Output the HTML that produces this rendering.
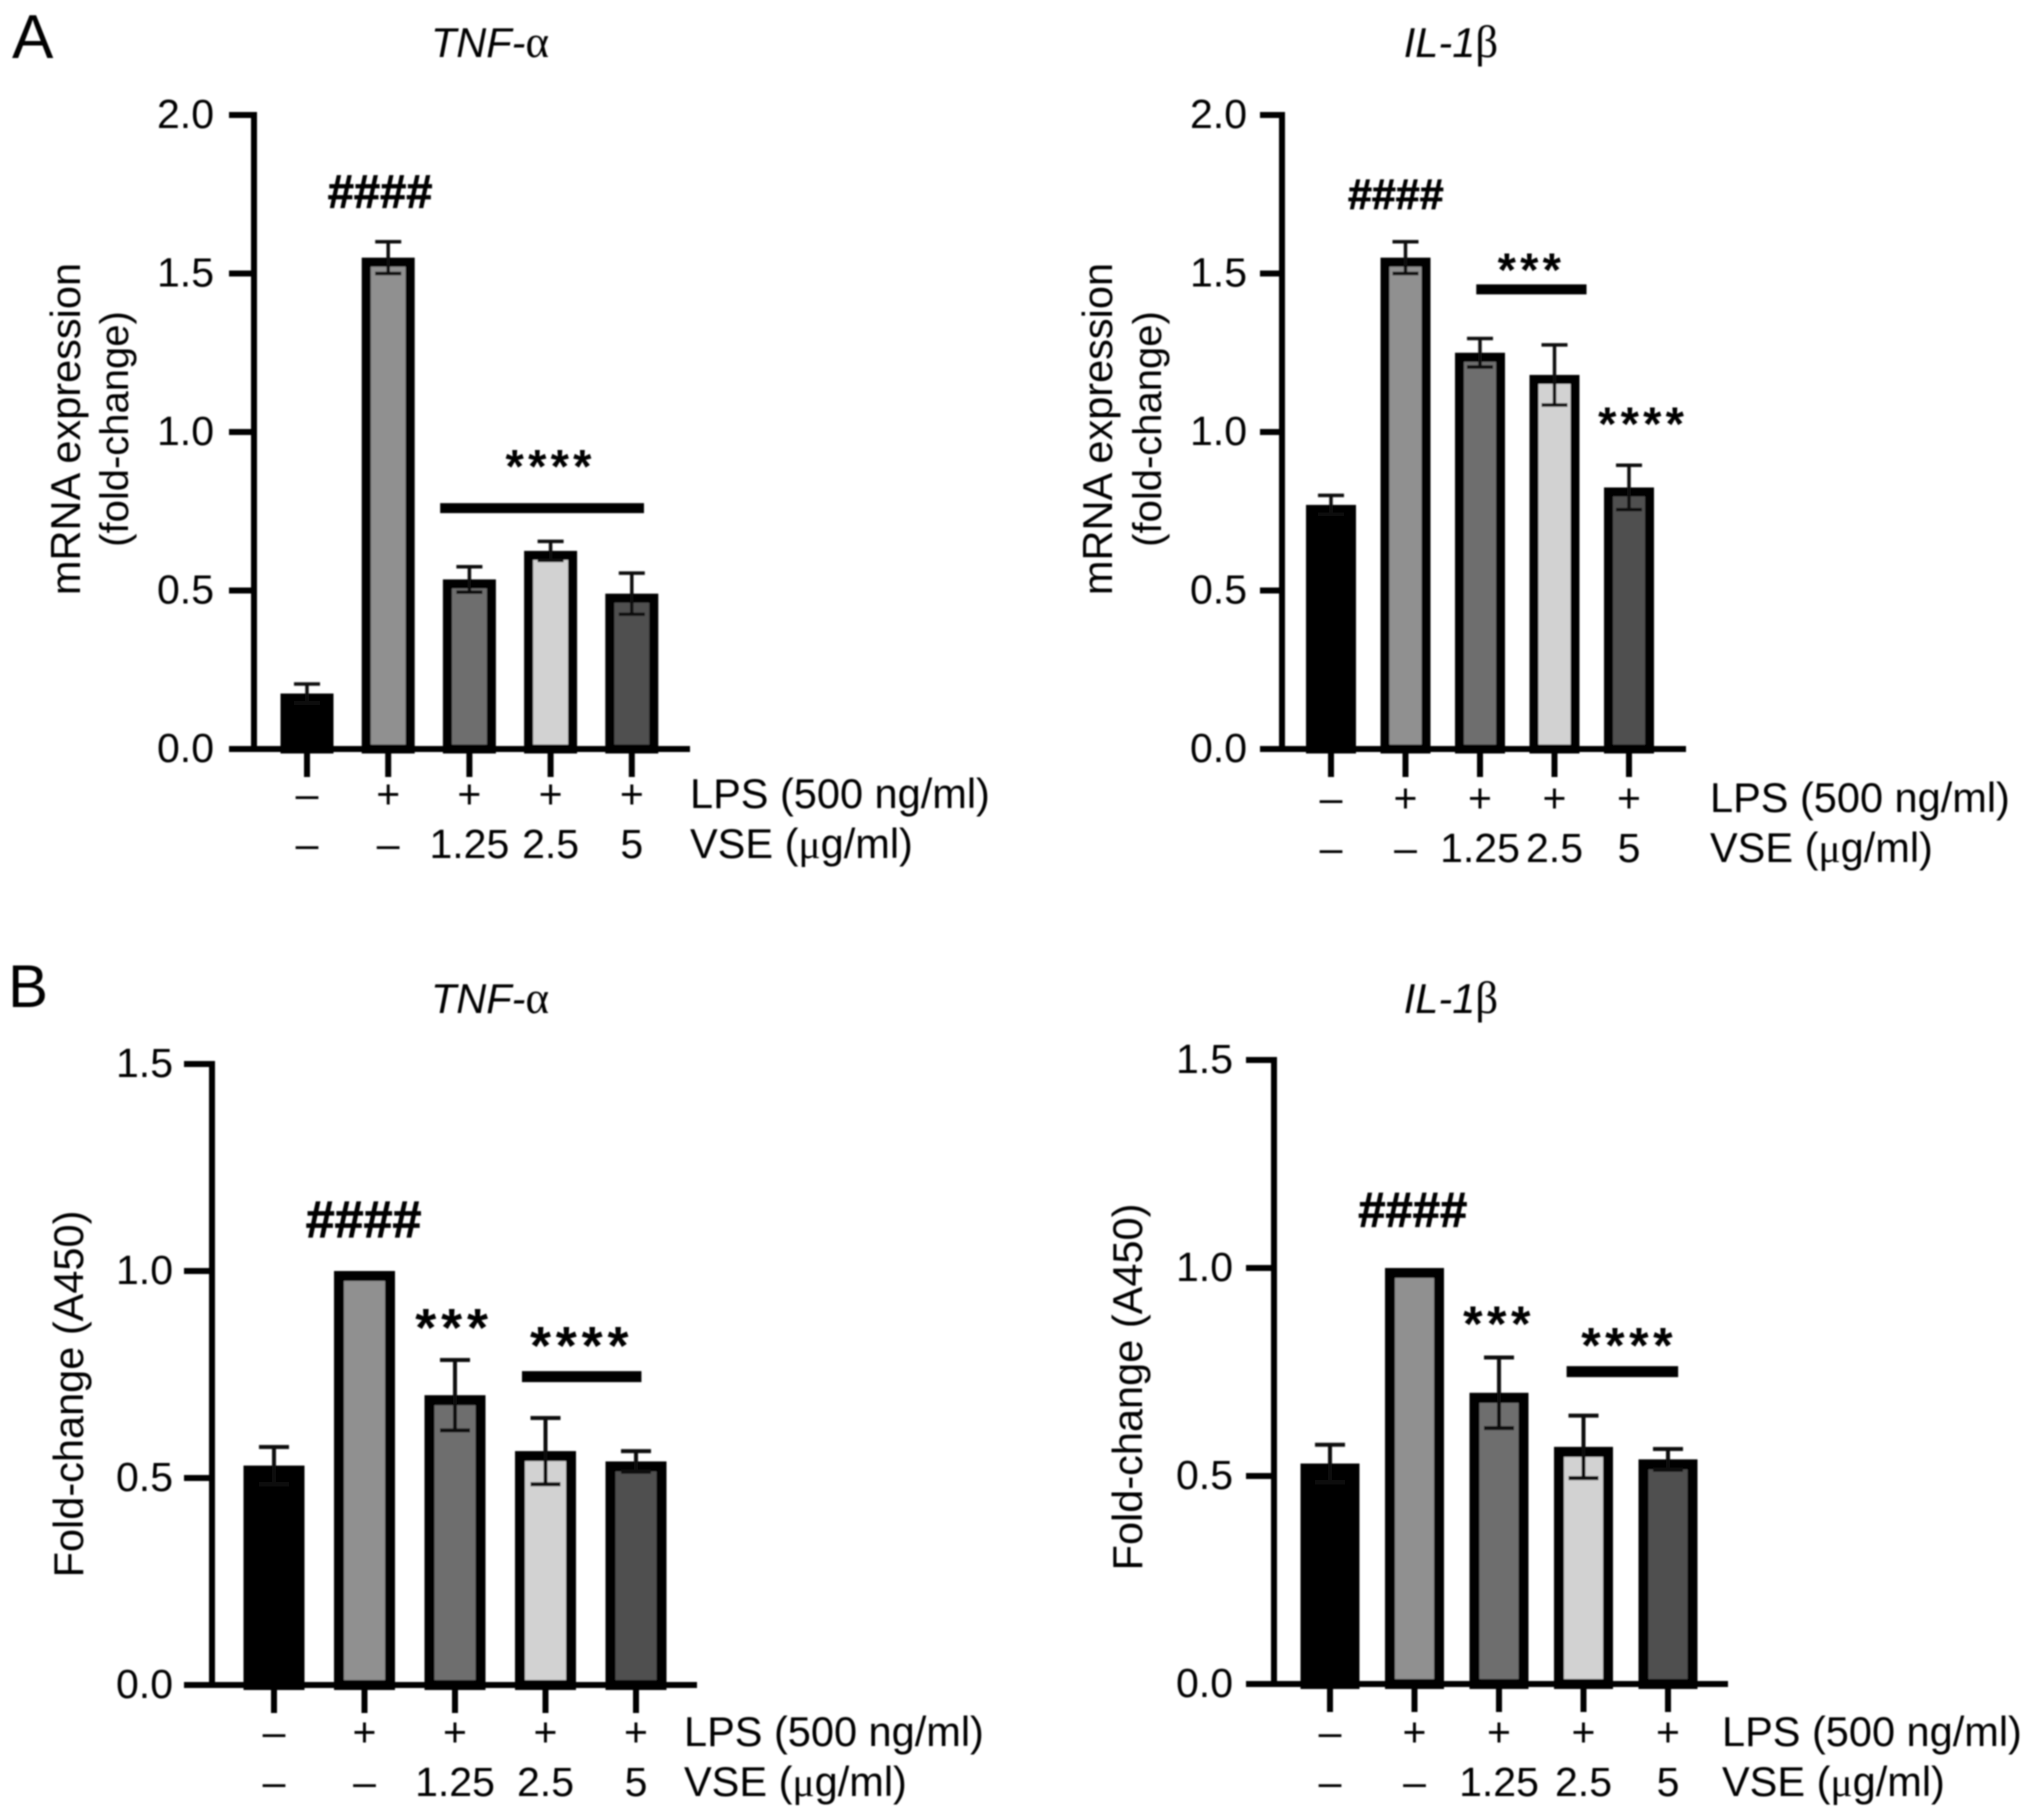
<!DOCTYPE html>
<html lang="en">
<head>
<meta charset="utf-8">
<title>mRNA and A450 fold-change of TNF-α and IL-1β</title>
<style>
  html, body { margin: 0; padding: 0; background: #fff; }
  svg { display: block; font-family: "Liberation Sans", sans-serif; fill: #000; }
</style>
</head>
<body>
<svg id="figure" width="2032" height="1817" viewBox="0 0 2032 1817" xmlns="http://www.w3.org/2000/svg">
  <defs>
    <filter id="soft" x="0" y="0" width="2032" height="1817" filterUnits="userSpaceOnUse" primitiveUnits="userSpaceOnUse">
      <feGaussianBlur stdDeviation="0.9"/>
    </filter>
  </defs>
  <rect width="2032" height="1817" fill="#fff"/>
  <g id="root" filter="url(#soft)"></g>
</svg>
<script>
const categories = ['Control', 'LPS', 'LPS + VSE 1.25', 'LPS + VSE 2.5', 'LPS + VSE 5'];
const lpsLabels = ['–', '+', '+', '+', '+'];
const vseLabels = ['–', '–', '1.25', '2.5', '5'];
const barColors = ['#000000', '#909090', '#6e6e6e', '#d2d2d2', '#505050'];

const mrnaTicks = [0, 0.5, 1.0, 1.5, 2.0];
const a450Ticks = [0, 0.5, 1.0, 1.5];

const mrnaTnfValues = [0.175, 1.55, 0.535, 0.625, 0.49];
const mrnaTnfErrors = [0.03, 0.05, 0.04, 0.03, 0.065];
const mrnaIl1Values = [0.77, 1.55, 1.25, 1.18, 0.825];
const mrnaIl1Errors = [0.03, 0.05, 0.045, 0.095, 0.07];
const a450TnfValues = [0.53, 1.0, 0.70, 0.565, 0.54];
const a450TnfErrors = [0.045, 0, 0.085, 0.08, 0.025];
const a450Il1Values = [0.53, 1.0, 0.70, 0.57, 0.54];
const a450Il1Errors = [0.045, 0, 0.085, 0.075, 0.025];

const mrnaTnfMarks = [
  { label: '####', at: 0.90, value: 1.757 },
  { label: '****', at: 3.0, value: 0.905 }
];
const mrnaTnfLines = [{ from: 1.64, to: 4.15, value: 0.76 }];
const mrnaIl1Marks = [
  { label: '####', at: 0.87, value: 1.75 },
  { label: '***', at: 2.69, value: 1.525 },
  { label: '****', at: 4.19, value: 1.038 }
];
const mrnaIl1Lines = [{ from: 1.95, to: 3.43, value: 1.45 }];
const a450TnfMarks = [
  { label: '####', at: 0.99, value: 1.125 },
  { label: '***', at: 1.99, value: 0.882 },
  { label: '****', at: 3.40, value: 0.838 }
];
const a450TnfLines = [{ from: 2.74, to: 4.06, value: 0.745 }];
const a450Il1Marks = [
  { label: '####', at: 0.98, value: 1.14 },
  { label: '***', at: 2.0, value: 0.882 },
  { label: '****', at: 3.54, value: 0.83 }
];
const a450Il1Lines = [{ from: 2.80, to: 4.12, value: 0.751 }];

const panels = [
  { id: 'a-tnf', title: ['TNF-', 'α'], titleX: 490, titleY: 57,
    values: mrnaTnfValues, errors: mrnaTnfErrors, marks: mrnaTnfMarks, lines: mrnaTnfLines, ticks: mrnaTicks,
    yMax: 2, yTop: 115, yZero: 749, axisX: 254, tickLeft: 229, axisEnd: 690, x0: 307, step: 81.2,
    barW: 53, stroke: 9, capW: 26, errStroke: 3.5, lineW: 10, hashFont: 47, starFont: 47, starOffset: 0.43,
    tickTextX: 214, rowLabelX: 690, row1Y: 794, row2Y: 844,
    titleFonts: [41.5, 40], titleLines: ['mRNA expression', '(fold-change)'], titleXs: [65, 113], titleCenter: 429 },
  { id: 'a-il1', title: ['IL-1', 'β'], titleX: 1451, titleY: 57,
    values: mrnaIl1Values, errors: mrnaIl1Errors, marks: mrnaIl1Marks, lines: mrnaIl1Lines, ticks: mrnaTicks,
    yMax: 2, yTop: 115, yZero: 749, axisX: 1282, tickLeft: 1260, axisEnd: 1686, x0: 1331, step: 74.5,
    barW: 50, stroke: 9, capW: 26, errStroke: 3.5, lineW: 10, hashFont: 43, starFont: 47, starOffset: 0.43,
    tickTextX: 1247, rowLabelX: 1710, row1Y: 798, row2Y: 848,
    titleFonts: [41.5, 40], titleLines: ['mRNA expression', '(fold-change)'], titleXs: [1097, 1146], titleCenter: 429 },
  { id: 'b-tnf', title: ['TNF-', 'α'], titleX: 490, titleY: 1013,
    values: a450TnfValues, errors: a450TnfErrors, marks: a450TnfMarks, lines: a450TnfLines, ticks: a450Ticks,
    yMax: 1.5, yTop: 1064, yZero: 1685, axisX: 212, tickLeft: 184, axisEnd: 697, x0: 274, step: 90.5,
    barW: 61, stroke: 10, capW: 30, errStroke: 4, lineW: 11, hashFont: 52, starFont: 54, starOffset: 0.48,
    tickTextX: 173, rowLabelX: 684, row1Y: 1732, row2Y: 1782,
    titleFonts: [41.5], titleLines: ['Fold-change (A450)'], titleXs: [68], titleCenter: 1394 },
  { id: 'b-il1', title: ['IL-1', 'β'], titleX: 1451, titleY: 1013,
    values: a450Il1Values, errors: a450Il1Errors, marks: a450Il1Marks, lines: a450Il1Lines, ticks: a450Ticks,
    yMax: 1.5, yTop: 1060, yZero: 1684, axisX: 1274, tickLeft: 1246, axisEnd: 1728, x0: 1330, step: 84.5,
    barW: 59, stroke: 10, capW: 30, errStroke: 4, lineW: 11, hashFont: 49, starFont: 50, starOffset: 0.48,
    tickTextX: 1233, rowLabelX: 1722, row1Y: 1732, row2Y: 1782,
    titleFonts: [41.5], titleLines: ['Fold-change (A450)'], titleXs: [1127], titleCenter: 1387 }
];

const NS = 'http://www.w3.org/2000/svg';
const root = document.getElementById('root');

function make(tag, attrs, parent, content) {
  const node = document.createElementNS(NS, tag);
  Object.keys(attrs).forEach(function (k) { node.setAttribute(k, attrs[k]); });
  if (content !== undefined) node.textContent = content;
  parent.appendChild(node);
  return node;
}

function yScale(p, v) { return p.yZero - (p.yZero - p.yTop) * v / p.yMax; }
function xScale(p, i) { return p.x0 + p.step * i; }

function drawPanel(p) {
  const g = make('g', {}, root);
  
  

  const title = make('text', { x: p.titleX, y: p.titleY, 'text-anchor': 'middle', 'font-size': 41.5 }, g);
  
  
  make('tspan', { 'font-style': 'italic' }, title, p.title[0]);
  make('tspan', { 'font-family': '"Liberation Serif", serif', 'font-size': 45 }, title, p.title[1]);

  // bars
  p.values.forEach(function (v, i) {
    const cx = xScale(p, i);
    const top = yScale(p, v);
    const bar = make('rect', {
      x: cx - p.barW / 2 + p.stroke / 2,
      y: top + p.stroke / 2,
      width: p.barW - p.stroke,
      height: Math.max(0, p.yZero - top - p.stroke / 2),
      fill: barColors[i], stroke: '#000', 'stroke-width': p.stroke
    }, g);
    
    
    const tip = make('title', {}, bar, categories[i]);
    
    
  });

  // error bars
  p.errors.forEach(function (e, i) {
    if (e <= 0) return;
    const cx = xScale(p, i);
    const hi = yScale(p, p.values[i] + e);
    const lo = yScale(p, p.values[i] - e);
    const d = 'M' + (cx - p.capW / 2) + ' ' + hi + 'H' + (cx + p.capW / 2) +
              'M' + cx + ' ' + hi + 'V' + lo +
              'M' + (cx - p.capW / 2) + ' ' + lo + 'H' + (cx + p.capW / 2);
    const err = make('path', { d: d, fill: 'none', stroke: '#111', 'stroke-width': p.errStroke }, g);
    
    
  });

  // axes
  const yAxis = make('line', { x1: p.axisX, x2: p.axisX, y1: p.yTop - 3, y2: p.yZero + 3, stroke: '#000', 'stroke-width': 6 }, g);
  
  
  const xAxis = make('line', { x1: p.tickLeft, x2: p.axisEnd, y1: p.yZero, y2: p.yZero, stroke: '#000', 'stroke-width': 6 }, g);
  
  

  p.ticks.forEach(function (t) {
    const y = yScale(p, t);
    const tick = make('line', { x1: p.tickLeft, x2: p.axisX, y1: y, y2: y, stroke: '#000', 'stroke-width': 6 }, g);
    
    
    const lab = make('text', { x: p.tickTextX, y: y + 13, 'text-anchor': 'end', 'font-size': 41 }, g, t.toFixed(1));
    
    
  });

  categories.forEach(function (c, i) {
    const cx = xScale(p, i);
    const tick = make('line', { x1: cx, x2: cx, y1: p.yZero, y2: p.yZero + 28, stroke: '#000', 'stroke-width': 6 }, g);
    
    
    const l1 = make('text', { x: cx, y: p.row1Y + 14, 'text-anchor': 'middle', 'font-size': 41 }, g, lpsLabels[i]);
    
    
    const l2 = make('text', { x: cx, y: p.row2Y + 14, 'text-anchor': 'middle', 'font-size': 41 }, g, vseLabels[i]);
    
    
  });

  const lps = make('text', { x: p.rowLabelX, y: p.row1Y + 14, 'font-size': 41.5 }, g, 'LPS (500 ng/ml)');
  
  
  const vse = make('text', { x: p.rowLabelX, y: p.row2Y + 14, 'font-size': 41.5 }, g, 'VSE (');
  
  
  make('tspan', { 'font-family': '"Liberation Serif", serif' }, vse, 'μ');
  make('tspan', {}, vse, 'g/ml)');

  // axis title
  p.titleLines.forEach(function (line, i) {
    const x = p.titleXs[i];
    const t = make('text', {
      x: x, y: p.titleCenter, 'text-anchor': 'middle', 'font-size': p.titleFonts[i],
      transform: 'rotate(-90 ' + x + ' ' + p.titleCenter + ') translate(0 15)'
    }, g, line);
    
    
  });

  // significance annotations
  p.lines.forEach(function (l) {
    const y = yScale(p, l.value);
    const bar = make('line', {
      x1: xScale(p, l.from), x2: xScale(p, l.to), y1: y, y2: y,
      stroke: '#000', 'stroke-width': p.lineW
    }, g);
    
    
  });
  p.marks.forEach(function (m) {
    const isHash = m.label.charAt(0) === '#';
    const size = isHash ? p.hashFont : p.starFont;
    const y = yScale(p, m.value) + (isHash ? size * 0.34 : size * p.starOffset);
    const mark = make('text', {
      x: xScale(p, m.at), y: y, 'text-anchor': 'middle', 'font-size': size,
      'font-weight': 'bold', 'letter-spacing': isHash ? 0 : size * 0.09,
      stroke: '#000', 'stroke-width': isHash ? 0.8 : 0
    }, g, m.label);
    
    
  });
}

panels.forEach(drawPanel);

const letterA = make('text', { x: 12, y: 58, 'font-size': 62 }, root, 'A');


const letterB = make('text', { x: 8, y: 1007, 'font-size': 60 }, root, 'B');


</script>
</body>
</html>
